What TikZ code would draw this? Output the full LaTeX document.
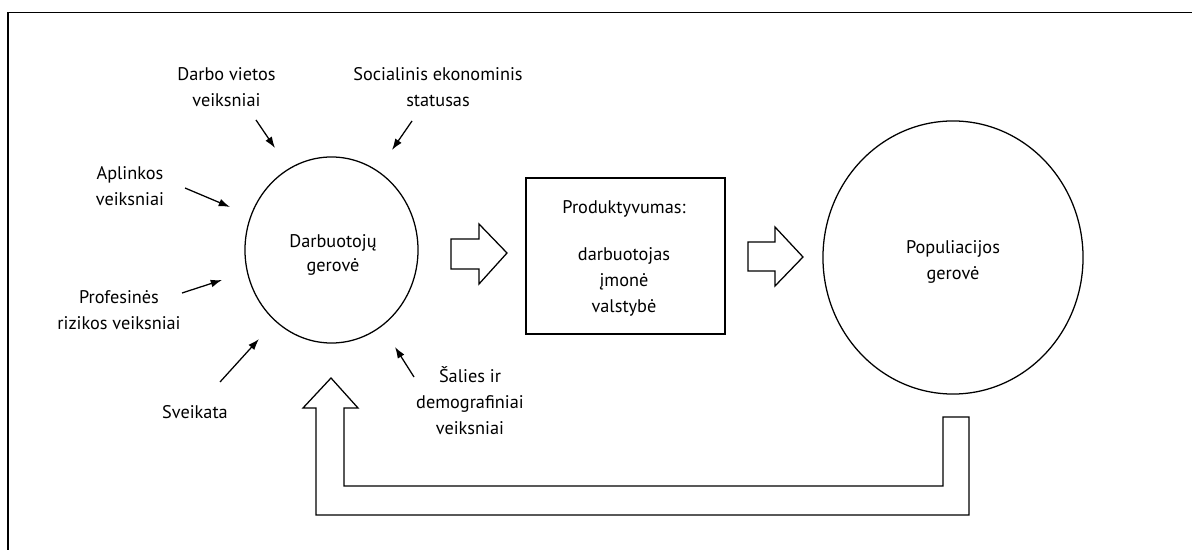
\documentclass[tikz,border=0pt]{standalone}
\usepackage{fontspec}
\setmainfont{PT Sans}
\usetikzlibrary{shapes.geometric,arrows.meta}
\begin{document}
\begin{tikzpicture}[x=0.025cm,y=-0.025cm,
  lbl/.style={align=center,font=\fontsize{13}{18.5}\selectfont,inner sep=0pt},
  oval/.style={ellipse,draw,line width=0.9pt,inner sep=0pt},
  factor/.style={-{Latex[length=8pt,width=5.5pt]},line width=0.9pt},
  hollow/.style={draw,line width=0.9pt,fill=white,line join=miter}]
\useasboundingbox (0,0) rectangle (1192,550);
% outer frame (left and top sides only)
\draw[line width=1.4pt] (8,550) -- (8,12.5) -- (1192,12.5);

% main shapes
\node[oval,minimum width=4.325cm,minimum height=4.65cm] (wb) at (331.5,250) {};
\node[lbl,font=\fontsize{13}{17.5}\selectfont] (wbt) at (333,255) {Darbuotojų\\gerovė};
\node[draw,line width=0.9pt,minimum width=4.975cm,minimum height=3.9cm,inner sep=0pt] (prod) at (625.5,256) {};
\node[lbl] (prodt) at (624,258) {Produktyvumas:\\[15pt]darbuotojas\\įmonė\\valstybė};
\node[oval,minimum width=6.5cm,minimum height=6.825cm] (pop) at (953,257.5) {};
\node[lbl] (popt) at (953,262) {Populiacijos\\gerovė};

% hollow block arrows between the stages
\draw[hollow] (451,239) -- (479,239) -- (479,224) -- (507,253) -- (479,284) -- (479,269) -- (451,269) -- cycle;
\draw[hollow] (748,242) -- (775,242) -- (775,227) -- (803,257) -- (775,286) -- (775,271) -- (748,271) -- cycle;

% feedback arrow back to worker well-being
\draw[hollow] (331,378) -- (358,408) -- (344,408) -- (344,486) -- (943,486) -- (943,417)
  -- (969,417) -- (969,515) -- (316,515) -- (316,408) -- (303,408) -- cycle;

% influencing factors
\node[lbl] (f1) at (226.5,87) {Darbo vietos\\veiksniai};
\node[lbl] (f2) at (438,87) {Socialinis ekonominis\\statusas};
\node[lbl] (f3) at (130,186) {Aplinkos\\veiksniai};
\node[lbl] (f4) at (119,310) {Profesinės\\rizikos veiksniai};
\node[lbl] (f5) at (195,412) {Sveikata};
\node[lbl] (f6) at (470,401) {Šalies ir\\demografiniai\\veiksniai};

\coordinate (s1) at (256,120); \coordinate (e1) at (275,148);
\coordinate (s2) at (412,121); \coordinate (e2) at (392,150);
\coordinate (s3) at (185,188); \coordinate (e3) at (230,207);
\coordinate (s4) at (182,293); \coordinate (e4) at (222,280);
\coordinate (s5) at (220,382); \coordinate (e5) at (259,339);
\coordinate (s6) at (414,377); \coordinate (e6) at (395,347);
\foreach \i in {1,...,6} \draw[factor] (s\i) -- (e\i);
\end{tikzpicture}
\end{document}
